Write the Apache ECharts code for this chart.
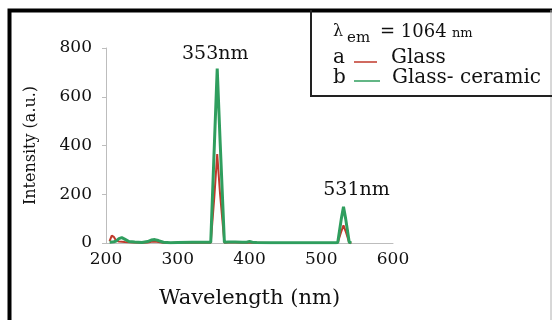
<!DOCTYPE html>
<html>
<head>
<meta charset="utf-8">
<script src="https://cdn.jsdelivr.net/npm/echarts@6/dist/echarts.min.js"></script>
<style>
html,body{margin:0;padding:0;background:#fff;}
#chart{width:552px;height:320px;}
</style>
</head>
<body>
<div id="chart"></div>
<script>
// ---- data ----
const wavelength = [205, 208, 211, 214, 218, 222, 226, 232, 240, 250, 258, 263, 268, 273, 280, 290, 300, 320, 340, 346, 351, 355, 359, 365, 370, 380, 390, 396, 400, 404, 410, 430, 470, 510, 520, 523, 528, 531, 534, 539, 542];
const glass        = [8, 30, 25, 10, 6, 5, 4, 3, 2, 1, 2, 5, 6, 4, 1, 0, 1, 1, 1, 1, 190, 365, 200, 1, 2, 2, 1, 1, 2, 1, 1, 0, 0, 0, 0, 1, 48, 72, 48, 1, 0];
const glassCeramic = [3, 4, 5, 8, 18, 22, 16, 6, 4, 2, 6, 12, 14, 10, 3, 1, 2, 3, 3, 3, 400, 716, 420, 3, 4, 4, 3, 3, 6, 3, 2, 1, 1, 1, 1, 2, 100, 149, 100, 3, 1];
const seriesNames = ['Glass', 'Glass- ceramic'];
const seriesTags = ['a', 'b'];
const peakWavelengths = [355, 531];
const peakValues = [716, 149];
const peakLabels = ['353nm', '531nm'];
const xTicks = {min: 200, max: 600, interval: 100};
const yTicks = {min: 0, max: 800, interval: 200};

const FONT = '"DejaVu Serif", "Liberation Serif", serif';
const RED = '#c0392b';
const GREEN = '#2f9e5e';

const pairs = (xs, ys) => xs.map((x, i) => [x, ys[i]]);

const chart = echarts.init(document.getElementById('chart'), null, {renderer: 'canvas'});
chart.setOption({
  animation: false,
  backgroundColor: '#fff',
  grid: {left: 106, right: 159, top: 48, bottom: 77},
  xAxis: {
    type: 'value', min: xTicks.min, max: xTicks.max, interval: xTicks.interval,
    axisLine: {show: true, lineStyle: {color: '#bdbdbd', width: 1}},
    axisTick: {show: false},
    splitLine: {show: false},
    axisLabel: {fontFamily: FONT, fontSize: 17, color: '#111', margin: 8},
    name: 'Wavelength (nm)', nameLocation: 'middle', nameGap: 45,
    nameTextStyle: {fontFamily: FONT, fontSize: 21, color: '#111'}
  },
  yAxis: {
    type: 'value', min: yTicks.min, max: yTicks.max, interval: yTicks.interval,
    axisLine: {show: true, lineStyle: {color: '#bdbdbd', width: 1}},
    axisTick: {show: true, length: 4, lineStyle: {color: '#bdbdbd'}},
    splitLine: {show: false},
    axisLabel: {fontFamily: FONT, fontSize: 17, color: '#111', margin: 14},
    name: 'Intensity (a.u.)', nameLocation: 'middle', nameGap: 67,
    nameTextStyle: {fontFamily: FONT, fontSize: 16, color: '#111'}
  },
  series: [
    {
      name: seriesNames[0], type: 'line', showSymbol: false, z: 2,
      data: pairs(wavelength, glass),
      lineStyle: {color: RED, width: 2},
      itemStyle: {color: RED}
    },
    {
      name: seriesNames[1], type: 'line', showSymbol: false, z: 3,
      data: pairs(wavelength, glassCeramic),
      lineStyle: {color: GREEN, width: 3},
      itemStyle: {color: GREEN},
      markPoint: {
        symbol: 'circle', symbolSize: 0,
        label: {show: true, formatter: '{b}', position: 'inside', fontFamily: FONT, fontSize: 19, color: '#111'},
        data: [
          {name: peakLabels[0], coord: [peakWavelengths[0], peakValues[0]], label: {offset: [-2, -14]}},
          {name: peakLabels[1], coord: [peakWavelengths[1], peakValues[1]], label: {offset: [13, -17]}}
        ]
      }
    }
  ],
  graphic: [
    // outer frame
    {type: 'polyline', z: 100, shape: {points: [[9.5, 330], [9.5, 10.5], [552, 10.5]]}, style: {stroke: '#000', lineWidth: 4, fill: null}},
    {type: 'line', z: 100, shape: {x1: 551, y1: 10, x2: 551, y2: 320}, style: {stroke: '#b0b0b0', lineWidth: 1}},
    // legend box
    {type: 'polyline', z: 100, shape: {points: [[311, 10], [311, 96], [552, 96]]}, style: {stroke: '#222', lineWidth: 2, fill: null}},
    {type: 'text', z: 100, x: 333, y: 32, style: {text: 'λ', font: '16px ' + FONT, fill: '#111', verticalAlign: 'middle'}},
    {type: 'text', z: 100, x: 347, y: 38, style: {text: 'em', font: '15px ' + FONT, fill: '#111', verticalAlign: 'middle'}},
    {type: 'text', z: 100, x: 380, y: 32, style: {text: '= 1064', font: '18px ' + FONT, fill: '#111', verticalAlign: 'middle'}},
    {type: 'text', z: 100, x: 452, y: 34, style: {text: 'nm', font: '13px ' + FONT, fill: '#111', verticalAlign: 'middle'}},
    {type: 'text', z: 100, x: 333, y: 58, style: {text: seriesTags[0], font: '20px ' + FONT, fill: '#111', verticalAlign: 'middle'}},
    {type: 'line', z: 100, shape: {x1: 354, y1: 62, x2: 377, y2: 62}, style: {stroke: RED, lineWidth: 1.5}},
    {type: 'text', z: 100, x: 391, y: 58, style: {text: seriesNames[0], font: '20px ' + FONT, fill: '#111', verticalAlign: 'middle'}},
    {type: 'text', z: 100, x: 333, y: 78, style: {text: seriesTags[1], font: '20px ' + FONT, fill: '#111', verticalAlign: 'middle'}},
    {type: 'line', z: 100, shape: {x1: 354, y1: 81, x2: 380, y2: 81}, style: {stroke: GREEN, lineWidth: 1.5}},
    {type: 'text', z: 100, x: 392, y: 78, style: {text: seriesNames[1], font: '20px ' + FONT, fill: '#111', verticalAlign: 'middle'}}
  ]
});
</script>
</body>
</html>
